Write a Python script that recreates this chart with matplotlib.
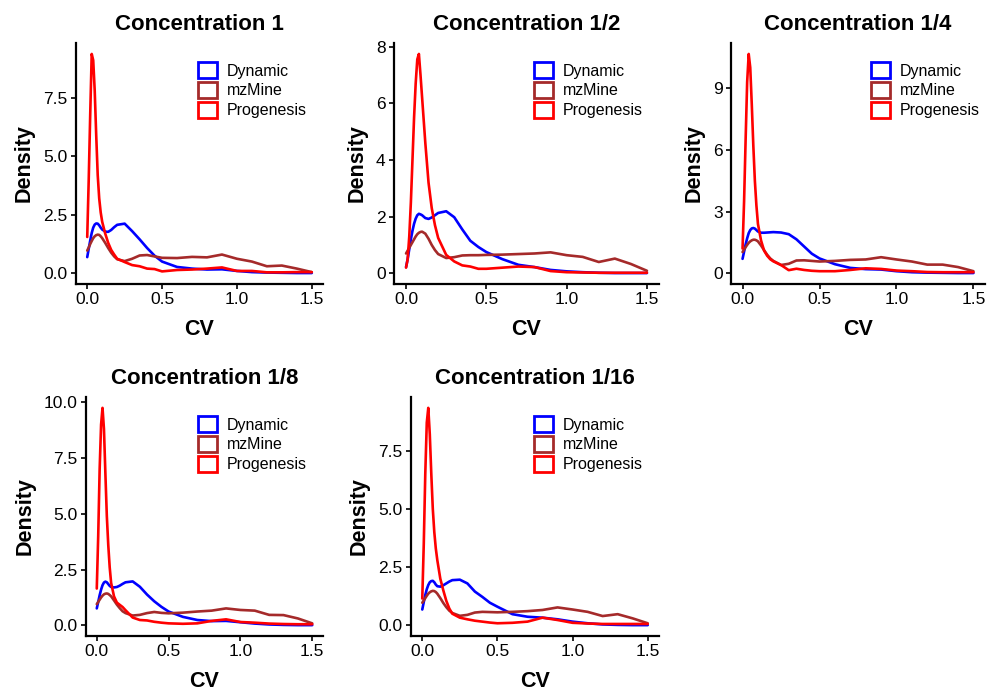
import matplotlib
matplotlib.use("Agg")
import matplotlib.pyplot as plt
from matplotlib.patches import Patch

plt.rcParams['font.family'] = ['Liberation Sans', 'DejaVu Sans']

# ---------------- data ----------------
cv = [0, .01, .02, .03, .04, .05, .06, .07, .08, .09, .10, .12, .14, .16, .18, .20,
      .25, .30, .35, .40, .45, .50, .60, .70, .80, .90, 1.0, 1.1, 1.2, 1.3, 1.4, 1.5]

series_names = ["Dynamic", "mzMine", "Progenesis"]
series_colors = ["#0000FF", "#A52A2A", "#FF0000"]

titles = ["Concentration 1", "Concentration 1/2", "Concentration 1/4",
          "Concentration 1/8", "Concentration 1/16"]

# Concentration 1
c1_dynamic = [0.69, 1.05, 1.4, 1.72, 1.95, 2.08, 2.13, 2.12, 2.05, 1.95, 1.87, 1.78, 1.77, 1.85, 1.97, 2.07,
              2.12, 1.8, 1.45, 1.08, 0.75, 0.5, 0.27, 0.2, 0.16, 0.17, 0.1, 0.05, 0.03, 0.02, 0.01, 0.01]
c1_mzmine = [0.97, 1.1, 1.25, 1.38, 1.5, 1.58, 1.63, 1.65, 1.64, 1.58, 1.5, 1.3, 1.08, 0.88, 0.72, 0.6,
             0.52, 0.62, 0.76, 0.78, 0.72, 0.66, 0.65, 0.7, 0.68, 0.8, 0.62, 0.5, 0.3, 0.33, 0.2, 0.05]
c1_progenesis = [1.55, 4.0, 6.8, 9.37, 9.1, 7.8, 5.9, 4.2, 3.2, 2.6, 2.2, 1.7, 1.3, 1.0, 0.8, 0.62,
                 0.48, 0.35, 0.3, 0.2, 0.18, 0.08, 0.14, 0.16, 0.2, 0.25, 0.1, 0.1, 0.04, 0.04, 0.05, 0.05]

# Concentration 1/2
c2_dynamic = [0.22, 0.5, 0.85, 1.2, 1.5, 1.75, 1.93, 2.05, 2.1, 2.08, 2.05, 1.95, 1.92, 1.97, 2.05, 2.13,
              2.19, 1.98, 1.55, 1.15, 0.93, 0.75, 0.5, 0.3, 0.22, 0.12, 0.07, 0.04, 0.02, 0.01, 0.01, 0.01]
c2_mzmine = [0.7, 0.8, 0.9, 1.0, 1.1, 1.2, 1.3, 1.38, 1.43, 1.46, 1.47, 1.4, 1.22, 1.0, 0.82, 0.68,
             0.54, 0.57, 0.63, 0.64, 0.64, 0.65, 0.66, 0.68, 0.7, 0.74, 0.64, 0.58, 0.4, 0.52, 0.33, 0.09]
c2_progenesis = [0.2, 0.5, 1.3, 2.5, 4.0, 5.5, 6.7, 7.55, 7.74, 7.0, 6.2, 4.6, 3.2, 2.3, 1.7, 1.25,
                 0.65, 0.42, 0.28, 0.24, 0.16, 0.16, 0.2, 0.24, 0.22, 0.08, 0.04, 0.03, 0.02, 0.02, 0.02, 0.02]

# Concentration 1/4
c3_dynamic = [0.7, 1.05, 1.4, 1.7, 1.95, 2.1, 2.18, 2.2, 2.17, 2.1, 2.03, 1.97, 1.97, 1.98, 1.99, 2.0,
              1.98, 1.9, 1.65, 1.3, 0.95, 0.72, 0.44, 0.26, 0.2, 0.18, 0.1, 0.05, 0.03, 0.02, 0.01, 0.01]
c3_mzmine = [1.03, 1.15, 1.27, 1.38, 1.48, 1.55, 1.6, 1.63, 1.63, 1.6, 1.55, 1.35, 1.12, 0.9, 0.72, 0.6,
             0.4, 0.46, 0.62, 0.63, 0.6, 0.57, 0.6, 0.65, 0.67, 0.78, 0.67, 0.57, 0.42, 0.42, 0.3, 0.1]
c3_progenesis = [1.2, 3.5, 6.5, 9.3, 10.66, 10.0, 8.2, 6.2, 4.5, 3.3, 2.4, 1.6, 1.1, 0.85, 0.68, 0.58,
                 0.4, 0.15, 0.22, 0.16, 0.12, 0.1, 0.1, 0.16, 0.24, 0.21, 0.13, 0.1, 0.06, 0.05, 0.05, 0.05]

# Concentration 1/8
c4_dynamic = [0.76, 1.05, 1.35, 1.6, 1.8, 1.92, 1.96, 1.93, 1.85, 1.77, 1.72, 1.7, 1.72, 1.78, 1.86, 1.93,
              1.97, 1.73, 1.38, 1.08, 0.83, 0.62, 0.38, 0.24, 0.19, 0.2, 0.14, 0.08, 0.04, 0.02, 0.01, 0.01]
c4_mzmine = [0.95, 1.05, 1.15, 1.25, 1.33, 1.39, 1.42, 1.43, 1.41, 1.36, 1.3, 1.12, 0.93, 0.77, 0.63, 0.55,
             0.44, 0.47, 0.55, 0.6, 0.56, 0.54, 0.57, 0.62, 0.66, 0.76, 0.69, 0.66, 0.47, 0.46, 0.31, 0.09]
c4_progenesis = [1.65, 4.0, 7.0, 9.0, 9.75, 8.8, 6.8, 4.9, 3.6, 2.6, 1.9, 1.3, 1.02, 0.92, 0.82, 0.68,
                 0.35, 0.24, 0.22, 0.16, 0.12, 0.09, 0.07, 0.09, 0.2, 0.27, 0.15, 0.12, 0.08, 0.06, 0.05, 0.05]

# Concentration 1/16
c5_dynamic = [0.68, 1.0, 1.3, 1.55, 1.73, 1.85, 1.9, 1.91, 1.85, 1.75, 1.68, 1.66, 1.72, 1.8, 1.88, 1.94,
              1.96, 1.8, 1.45, 1.22, 0.97, 0.8, 0.48, 0.37, 0.33, 0.26, 0.16, 0.09, 0.04, 0.02, 0.01, 0.01]
c5_mzmine = [0.97, 1.07, 1.17, 1.27, 1.36, 1.42, 1.46, 1.48, 1.47, 1.43, 1.36, 1.17, 0.96, 0.78, 0.63, 0.53,
             0.41, 0.45, 0.55, 0.58, 0.57, 0.56, 0.58, 0.61, 0.66, 0.77, 0.68, 0.58, 0.4, 0.48, 0.3, 0.09]
c5_progenesis = [1.15, 3.5, 6.5, 8.7, 9.33, 8.2, 6.5, 5.0, 4.0, 3.3, 2.8, 2.0, 1.5, 1.05, 0.72, 0.5,
                 0.33, 0.26, 0.2, 0.16, 0.12, 0.09, 0.11, 0.16, 0.33, 0.23, 0.11, 0.08, 0.06, 0.06, 0.06, 0.06]

panel_series = [
    [c1_dynamic, c1_mzmine, c1_progenesis],
    [c2_dynamic, c2_mzmine, c2_progenesis],
    [c3_dynamic, c3_mzmine, c3_progenesis],
    [c4_dynamic, c4_mzmine, c4_progenesis],
    [c5_dynamic, c5_mzmine, c5_progenesis],
]

x_ticks = [0.0, 0.5, 1.0, 1.5]
y_ticks = [
    [0.0, 2.5, 5.0, 7.5],
    [0, 2, 4, 6, 8],
    [0, 3, 6, 9],
    [0.0, 2.5, 5.0, 7.5, 10.0],
    [0.0, 2.5, 5.0, 7.5],
]
y_fmt = ["{:.1f}", "{:.0f}", "{:.0f}", "{:.1f}", "{:.1f}"]

# ---------------- layout (pixels) ----------------
W, H = 996, 691
boxes = [  # left, right, top, bottom
    (76, 323, 43, 284),
    (394, 659, 43, 284),
    (731, 985, 43, 284),
    (86, 323, 397, 636),
    (411, 659, 397, 636),
]
legend_pos = [(198, 62), (534, 62), (871, 62), (198, 416), (534, 416)]

fig = plt.figure(figsize=(W / 100, H / 100), dpi=100)

for i in range(5):
    l, r, t, b = boxes[i]
    ax = fig.add_axes([l / W, 1 - b / H, (r - l) / W, (b - t) / H])
    allv = []
    for vals, name, col in zip(panel_series[i], series_names, series_colors):
        ax.plot(cv, vals, color=col, lw=1.9, label=name, solid_capstyle='round')
        allv += vals
    lo, hi = min(allv), max(allv)
    rng = hi - lo
    ax.set_ylim(lo - 0.05 * rng, hi + 0.05 * rng)
    ax.set_xlim(-0.075, 1.575)
    ax.set_xticks(x_ticks)
    ax.set_xticklabels(["{:.1f}".format(v) for v in x_ticks])
    ax.set_yticks(y_ticks[i])
    ax.set_yticklabels([y_fmt[i].format(v) for v in y_ticks[i]])
    for s in ["top", "right"]:
        ax.spines[s].set_visible(False)
    for s in ["left", "bottom"]:
        ax.spines[s].set_linewidth(1.6)
        ax.spines[s].set_color("black")
    ax.tick_params(axis="both", length=3.6, width=1.2, color="black",
                   labelsize=12.5, labelcolor="black", pad=2.5)
    ax.set_title(titles[i], fontsize=16, fontweight="bold", pad=9)
    ax.set_xlabel("CV", fontsize=15.5, fontweight="bold", labelpad=8)
    ax.set_ylabel("Density", fontsize=15.5, fontweight="bold", labelpad=6)

    handles = [Patch(facecolor="white", edgecolor=c, lw=2) for c in series_colors]
    lx, ly = legend_pos[i]
    ax.legend(handles, series_names, loc="upper left",
              bbox_to_anchor=(lx / W, 1 - ly / H), bbox_transform=fig.transFigure,
              frameon=False, fontsize=11.5, handlelength=1.2, handleheight=1.2,
              handletextpad=0.6, labelspacing=0.2, borderpad=0, borderaxespad=0)

fig.savefig("out.png", dpi=100)
